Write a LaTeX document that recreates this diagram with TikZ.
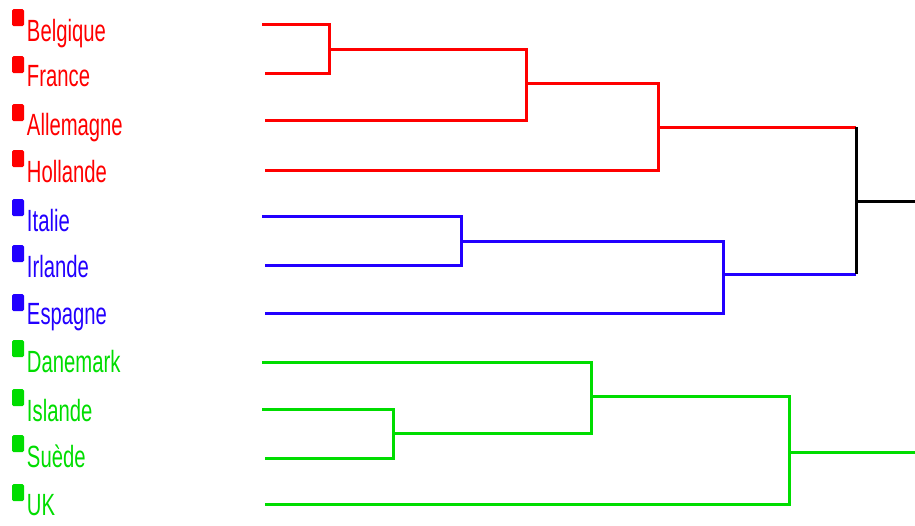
\documentclass[tikz,border=0pt]{standalone}
\usepackage{fontspec}
\usepackage{graphicx}
\setmainfont{Liberation Sans}
\definecolor{cred}{HTML}{FF0000}
\definecolor{cblue}{HTML}{2200FF}
\definecolor{cgreen}{HTML}{00DD00}
\newcommand\leafrow[5]{%
  \node[legsq, fill=#2, anchor=north west] (#1sq) at (12,#5) {};
  \node[lab, text=#2, anchor=base west] (#1) at (27,#4) {\scalebox{0.66}[1]{#3}};
}
\begin{document}
\begin{tikzpicture}[x=1pt,y=-1pt,
  legsq/.style={draw=none, rounded corners=1.5pt, minimum width=12pt, minimum height=17pt, inner sep=0pt, outer sep=0pt},
  lab/.style={inner sep=0pt, outer sep=0pt, font=\fontsize{30.7}{32}\selectfont},
  branch/.style={line width=3pt, line join=miter}]
\useasboundingbox (0,0) rectangle (915,525);
% labels
\leafrow{lbe}{cred}{Belgique}{41}{9}
\leafrow{lfr}{cred}{France}{86}{56}
\leafrow{lal}{cred}{Allemagne}{135}{104}
\leafrow{lho}{cred}{Hollande}{182}{150}
\leafrow{lit}{cblue}{Italie}{231}{199}
\leafrow{lir}{cblue}{Irlande}{277}{245}
\leafrow{les}{cblue}{Espagne}{324}{294}
\leafrow{lda}{cgreen}{Danemark}{372}{340}
\leafrow{lis}{cgreen}{Islande}{421}{389}
\leafrow{lsu}{cgreen}{Suède}{467}{435}
\leafrow{luk}{cgreen}{UK}{515}{484}
% leaf starts
\coordinate (be0) at (262,24);
\coordinate (fr0) at (265,73);
\coordinate (al0) at (265,120);
\coordinate (ho0) at (265,170);
\coordinate (it0) at (262,216);
\coordinate (ir0) at (265,265);
\coordinate (es0) at (265,313);
\coordinate (da0) at (262,362);
\coordinate (is0) at (262,409);
\coordinate (su0) at (265,458);
\coordinate (uk0) at (265,504);
% merges
\coordinate (m1) at (329,49);
\coordinate (m2) at (526,83);
\coordinate (m3) at (658,127);
\coordinate (b1) at (461,241);
\coordinate (b2) at (723,274);
\coordinate (g1) at (393,433);
\coordinate (g2) at (591,396);
\coordinate (g3) at (789,452);
\coordinate (rtop) at (856,127);
\coordinate (rbot) at (856,274);
\coordinate (r) at (856,201);
\coordinate (rend) at (915,201);
\coordinate (gend) at (915,452);
% red
\draw[branch, cred] (be0) -| (m1) |- (fr0);
\draw[branch, cred] (m1) -| (m2) |- (al0);
\draw[branch, cred] (m2) -| (m3) |- (ho0);
\draw[branch, cred] (m3) -- (rtop);
% blue
\draw[branch, cblue] (it0) -| (b1) |- (ir0);
\draw[branch, cblue] (b1) -| (b2) |- (es0);
\draw[branch, cblue] (b2) -- (rbot);
% black
\draw[branch, black] (rtop) -- (rbot);
\draw[branch, black] (r) -- (rend);
% green
\draw[branch, cgreen] (is0) -| (g1) |- (su0);
\draw[branch, cgreen] (da0) -| (g2) |- (g1);
\draw[branch, cgreen] (g2) -| (g3) |- (uk0);
\draw[branch, cgreen] (g3) -- (gend);
\end{tikzpicture}
\end{document}
